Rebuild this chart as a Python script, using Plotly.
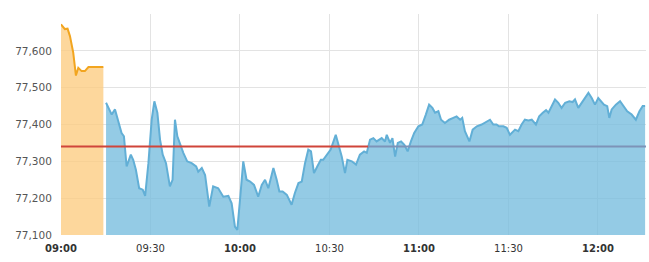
import pandas as pd
import plotly.graph_objects as go

# ---- data ----
session_date = "2024-01-01"
open_time = "09:00"
prev_close = 77340

pre_minutes = [0, 1.3, 2.2, 3.0, 4.1, 5.0, 5.8, 6.9, 8.0, 9.2, 14.2]
pre_values = [77672, 77659, 77660, 77640, 77595, 77533, 77554, 77545, 77545, 77556, 77556]

blue_minutes = [15.1, 15.9, 17.0, 18.1, 19.2, 20.3, 21.1, 22.0, 23.4, 24.2, 25.1, 26.2, 27.4, 28.2,
                29.3, 30.4, 31.3, 32.3, 33.2, 34.1, 35.2, 36.5, 37.4, 38.2, 39.0, 39.9, 41.0, 42.3,
                43.8, 45.3, 46.0, 47.2, 48.3, 49.7, 51.0, 52.7, 54.4, 56.1, 57.2, 58.3, 59.1, 60.0,
                61.1, 62.2, 63.4, 64.7, 66.1, 67.3, 68.4, 69.5, 71.2, 72.3, 73.2, 74.3, 75.7, 77.3,
                78.4, 79.6, 80.7, 81.8, 82.9, 83.8, 84.8, 85.9, 87.1, 87.9, 89.3, 90.4, 92.1, 93.2,
                94.1, 95.2, 96.0, 97.5, 98.9, 100.2, 101.6, 102.5, 103.6, 104.7, 105.8, 107.5, 108.6,
                109.2, 110.3, 111.1, 112.0, 112.9, 114.0, 115.1, 116.2, 117.3, 118.4, 119.8, 121.1,
                122.3, 123.4, 124.5, 125.4, 126.5, 127.4, 128.7, 130.1, 131.5, 132.6, 133.8, 134.5,
                135.4, 136.9, 138.0, 139.4, 141.0, 142.7, 143.8, 144.9, 146.0, 146.8, 148.3, 149.4,
                150.5, 152.2, 153.3, 154.4, 155.5, 156.7, 157.8, 159.2, 160.3, 161.5, 162.6, 163.4,
                164.5, 165.6, 166.7, 167.8, 169.0, 170.4, 171.5, 172.3, 173.4, 174.5, 175.6, 176.8,
                177.9, 179.0, 180.1, 181.2, 182.0, 183.1, 183.8, 184.6, 186.0, 187.4, 188.5, 189.8,
                191.3, 192.7, 193.9, 195.0, 195.8]
blue_values = [77459, 77445, 77427, 77441, 77409, 77377, 77368, 77286, 77318, 77304, 77277, 77227, 77223, 77206,
               77295, 77413, 77463, 77432, 77359, 77318, 77295, 77232, 77250, 77413, 77368, 77345, 77323, 77300,
               77295, 77286, 77272, 77282, 77263, 77177, 77232, 77227, 77204, 77206, 77186, 77123, 77114, 77195,
               77300, 77250, 77245, 77236, 77204, 77236, 77250, 77227, 77282, 77250, 77218, 77218, 77209, 77182,
               77214, 77241, 77245, 77295, 77332, 77327, 77268, 77286, 77304, 77304, 77318, 77332, 77372, 77336,
               77313, 77268, 77304, 77300, 77291, 77318, 77327, 77323, 77359, 77363, 77354, 77363, 77354,
               77372, 77350, 77363, 77313, 77350, 77354, 77345, 77327, 77354, 77377, 77395, 77400,
               77427, 77454, 77445, 77432, 77436, 77413, 77404, 77413, 77418, 77422, 77413, 77418,
               77382, 77354, 77386, 77395, 77400, 77409, 77413, 77400, 77400, 77395, 77395, 77391,
               77372, 77386, 77382, 77400, 77413, 77411, 77413, 77400, 77422, 77432, 77439, 77432,
               77450, 77468, 77459, 77445, 77459, 77463, 77461, 77468, 77445, 77459, 77472, 77486,
               77472, 77454, 77472, 77463, 77454, 77450, 77418, 77441, 77454, 77463, 77450, 77436,
               77427, 77413, 77436, 77450, 77450]

x_tick_minutes = [0, 30, 60, 90, 120, 150, 180]
x_tick_labels = ["<b>09:00</b>", "09:30", "<b>10:00</b>", "10:30", "<b>11:00</b>", "11:30", "<b>12:00</b>"]
y_tick_values = [77100, 77200, 77300, 77400, 77500, 77600, 77700]
y_tick_labels = ["77,100", "77,200", "77,300", "77,400", "77,500", "77,600", ""]
x_end_minutes = 196.1
close_split_minutes = 103.0

# ---- helpers ----
base = pd.Timestamp(f"{session_date} {open_time}")
to_t = lambda mins: [base + pd.Timedelta(minutes=m) for m in mins]

fig = go.Figure()

fig.add_trace(go.Scatter(
    x=to_t(pre_minutes), y=pre_values, mode="lines",
    line=dict(color="#f2a51f", width=2), fill="tozeroy",
    fillcolor="rgba(253,204,128,0.78)", hoverinfo="skip"))

fig.add_trace(go.Scatter(
    x=to_t(blue_minutes), y=blue_values, mode="lines",
    line=dict(color="#62afd6", width=2), fill="tozeroy",
    fillcolor="rgba(118,189,222,0.78)", hoverinfo="skip"))

fig.add_trace(go.Scatter(
    x=to_t([0, close_split_minutes]), y=[prev_close, prev_close], mode="lines",
    line=dict(color="#d0453a", width=2), hoverinfo="skip"))
fig.add_trace(go.Scatter(
    x=to_t([close_split_minutes, x_end_minutes]), y=[prev_close, prev_close], mode="lines",
    line=dict(color="#7d93b8", width=2), hoverinfo="skip"))

fig.update_layout(
    width=649, height=262,
    margin=dict(l=61, r=3, t=14, b=27),
    paper_bgcolor="white", plot_bgcolor="white",
    showlegend=False,
    font=dict(family="DejaVu Sans", color="#333"),
)
fig.update_xaxes(
    range=to_t([0, x_end_minutes]),
    tickvals=to_t(x_tick_minutes), ticktext=x_tick_labels,
    showgrid=True, gridcolor="#e3e3e3", gridwidth=1,
    tickfont=dict(size=10, color="#333"),
    ticks="outside", ticklen=4, tickcolor="rgba(0,0,0,0)",
    showline=False, zeroline=False,
)
fig.update_yaxes(
    range=[77100, 77700],
    tickvals=y_tick_values, ticktext=y_tick_labels,
    showgrid=True, gridcolor="#e3e3e3", gridwidth=1,
    tickfont=dict(size=10.5, color="#555"),
    ticks="outside", ticklen=6, tickcolor="rgba(0,0,0,0)",
    showline=False, zeroline=False,
)

fig.write_html("out.html")
